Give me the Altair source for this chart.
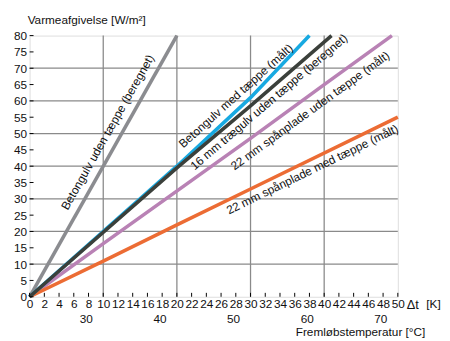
import altair as alt
import pandas as pd

# ---- data ----
series_names = [
    "Betongulv uden tæppe (beregnet)",
    "Betongulv med tæppe (målt)",
    "16 mm trægulv uden tæppe (beregnet)",
    "22 mm spånplade uden tæppe (målt)",
    "22 mm spånplade med tæppe (målt)",
]
grey_dt = [0, 20]
grey_w = [0, 80]
cyan_dt = [0, 20, 30, 38]
cyan_w = [0, 40, 61, 80]
dark_dt = [0, 20, 30, 41]
dark_w = [0, 39.5, 58.5, 80]
pink_dt = [0, 10, 30, 40, 49.2]
pink_w = [0, 16.3, 48.5, 65, 80]
orange_dt = [0, 10, 20, 30, 50]
orange_w = [0, 10.9, 22, 33, 55]

colors = ["#8b8c90", "#17a9e1", "#3b403b", "#b982b5", "#ec6c34"]

label_dt = [10.6, 28.0, 32.5, 38.1, 38.4]
label_w = [50.4, 61.5, 59.7, 57.0, 39.0]
label_angle = [299.5, 318, 319.5, 324, 334]

x_ticks = list(range(0, 51, 2))
y_ticks = list(range(0, 81, 5))
x_grid = [10, 20, 30, 40]
y_grid = [10, 20, 30, 40, 50, 60, 70]
flow_temp = [30, 40, 50, 60, 70]
flow_dt = [7.7, 17.7, 27.7, 37.7, 47.7]

W, H = 375, 266
FONT = "Liberation Sans"

xs = alt.Scale(domain=[0, 50], nice=False, zero=True)
ys = alt.Scale(domain=[0, 80], nice=False, zero=True)

rows = []
all_dt = [grey_dt, cyan_dt, dark_dt, pink_dt, orange_dt]
all_w = [grey_w, cyan_w, dark_w, pink_w, orange_w]
for i in range(5):
    for j, (d, w) in enumerate(zip(all_dt[i], all_w[i])):
        rows.append({"serie": series_names[i], "dt": d, "w": w, "o": j})
lines_df = pd.DataFrame(rows)

xaxis = alt.Axis(values=x_ticks, grid=False, ticks=False, domain=False,
                 labelFontSize=12, labelFont=FONT, labelColor="#111",
                 labelPadding=2, title=None, labelFlush=False, labelOverlap=False)
yaxis = alt.Axis(values=y_ticks, grid=False, ticks=False, domain=False,
                 labelFontSize=12, labelFont=FONT, labelColor="#111",
                 labelPadding=3, title=None, labelFlush=False, labelOverlap=False)


def X(field):
    return alt.X(field, scale=xs, axis=xaxis)


def Y(field):
    return alt.Y(field, scale=ys, axis=yaxis)


vgrid = alt.Chart(pd.DataFrame({"g": x_grid})).mark_rule(
    color="#8a8a8a", strokeWidth=1.3).encode(x=X("g:Q"))
hgrid = alt.Chart(pd.DataFrame({"g": y_grid})).mark_rule(
    color="#8a8a8a", strokeWidth=1.3).encode(y=Y("g:Q"))

xt = alt.Chart(pd.DataFrame({"t": x_ticks})).mark_rule(
    color="black", strokeWidth=1).encode(
    x=X("t:Q"), y=alt.value(H), y2=alt.value(H - 4))
yt = alt.Chart(pd.DataFrame({"t": y_ticks})).mark_rule(
    color="black", strokeWidth=1).encode(
    y=Y("t:Q"), x=alt.value(0), x2=alt.value(4))

lines = alt.Chart(lines_df).mark_line(strokeWidth=3.6, strokeCap="butt").encode(
    x=X("dt:Q"),
    y=Y("w:Q"),
    color=alt.Color("serie:N", scale=alt.Scale(domain=series_names, range=colors),
                    legend=None),
    detail="serie:N",
    order="o:Q",
)
line_layers = [lines.transform_filter(alt.datum.serie == series_names[i])
               for i in [0, 3, 4, 1, 2]]

label_layers = []
for i in range(5):
    ldf = pd.DataFrame({"dt": [label_dt[i]], "w": [label_w[i]], "t": [series_names[i]]})
    label_layers.append(
        alt.Chart(ldf).mark_text(angle=label_angle[i], fontSize=12, font=FONT,
                                 color="#111", align="center", baseline="middle").encode(
            x=X("dt:Q"), y=Y("w:Q"), text="t:N"))

flow_df = pd.DataFrame({"dt": flow_dt, "t": [str(v) for v in flow_temp]})
flow = alt.Chart(flow_df).mark_text(fontSize=12, font=FONT, color="#111",
                                    align="center", baseline="middle").encode(
    x=X("dt:Q"), y=alt.value(H + 23), text="t:N")


def note(text, x, y, align, size=12):
    return alt.Chart(pd.DataFrame({"t": [text]})).mark_text(
        fontSize=size, font=FONT, color="#111", align=align, baseline="middle").encode(
        x=alt.value(x), y=alt.value(y), text="t:N")


ytitle = note("Varmeafgivelse  [W/m²]", -2, -16, "left")
xdelta = note("Δt", 384, H + 8, "left", 13)
xunit = note("[K]", 404, H + 7, "left")
ftitle = note("Fremløbstemperatur  [°C]", 403, H + 36, "right")

chart = alt.layer(vgrid, hgrid, *line_layers, *label_layers, xt, yt, flow,
                  ytitle, xdelta, xunit, ftitle).properties(
    width=W, height=H,
    autosize=alt.AutoSizeParams(type="none"),
    padding={"left": 22, "top": 25, "right": 45, "bottom": 45},
).configure_view(stroke="black", strokeWidth=1.6).configure(background="white")

chart.save("out.html", embed_options={"renderer": "svg", "actions": False})
